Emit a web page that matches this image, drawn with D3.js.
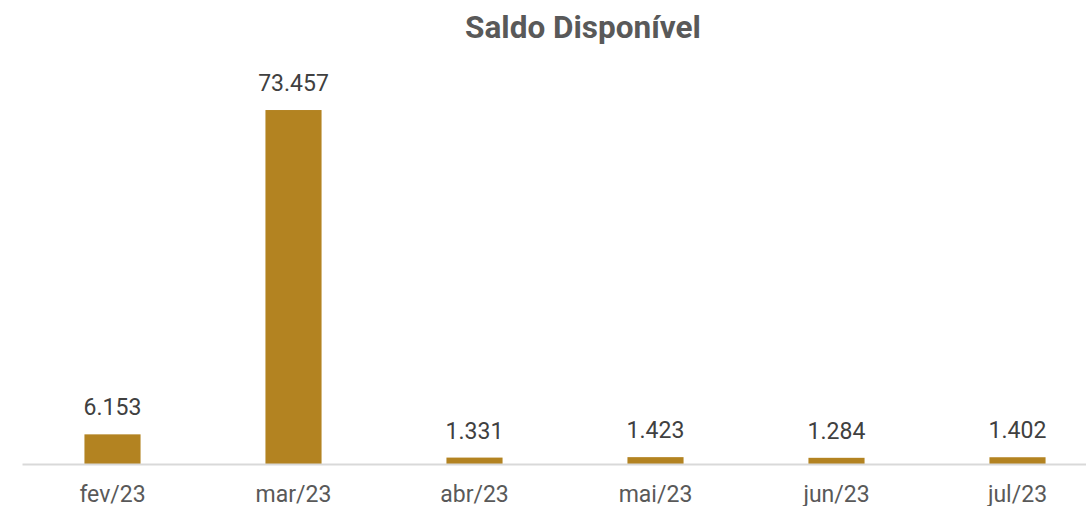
<!DOCTYPE html>
<html>
<head>
<meta charset="utf-8">
<script src="https://cdn.jsdelivr.net/npm/d3@7"></script>
<style>
  body { margin: 0; background: #fff; }
  text { font-family: Roboto, "Noto Sans", sans-serif; }
</style>
</head>
<body>
<svg id="chart" width="1086" height="506"></svg>
<script>
// data
const months = ["fev/23", "mar/23", "abr/23", "mai/23", "jun/23", "jul/23"];
const saldo = [6153, 73457, 1331, 1423, 1284, 1402];
const title = "Saldo Disponível";

const svg = d3.select("#chart");
const fmt = d3.formatLocale({decimal: ",", thousands: ".", grouping: [3], currency: ["R$", ""]}).format(",d");

// band starts at the left edge of the axis line, last band runs past the window
let x = d3.scaleBand().domain(months).range([22, 1108]).paddingInner(0.69).paddingOuter(0.345);
let y = d3.scaleLinear().domain([0, 80000]).range([464, 78.5]);

svg.append("text")
    .attr("x", 583).attr("y", 37.5)
    .attr("text-anchor", "middle")
    .style("font-size", "31.5px").style("font-weight", "bold")
    .attr("fill", "#595959")
    .text(title);

let bars = svg.selectAll(".bar").data(saldo);
bars.enter().append("rect")
    .attr("class", "bar")
    .attr("x", (d, i) => x(months[i]))
    .attr("y", d => y(d))
    .attr("width", x.bandwidth())
    .attr("height", d => y(0) - y(d))
    .attr("fill", "#B38321");

svg.selectAll(".val").data(saldo).enter().append("text")
    .attr("class", "val")
    .attr("x", (d, i) => x(months[i]) + x.bandwidth() / 2)
    .attr("y", d => y(d) - 19)
    .attr("text-anchor", "middle")
    .style("font-size", "23px")
    .attr("fill", "#404040")
    .text(d => fmt(d));

// axis: grey baseline, no ticks
let axis = svg.append("g")
    .attr("transform", "translate(0," + y(0) + ")")
    .call(d3.axisBottom(x).tickSize(0).tickPadding(21.4));
axis.select(".domain").attr("stroke", "#d9d9d9").attr("stroke-width", 2);
axis.selectAll(".tick text")
    .style("font-size", "23px")
    .style("font-family", "Roboto")
    .attr("fill", "#595959");
</script>
</body>
</html>
